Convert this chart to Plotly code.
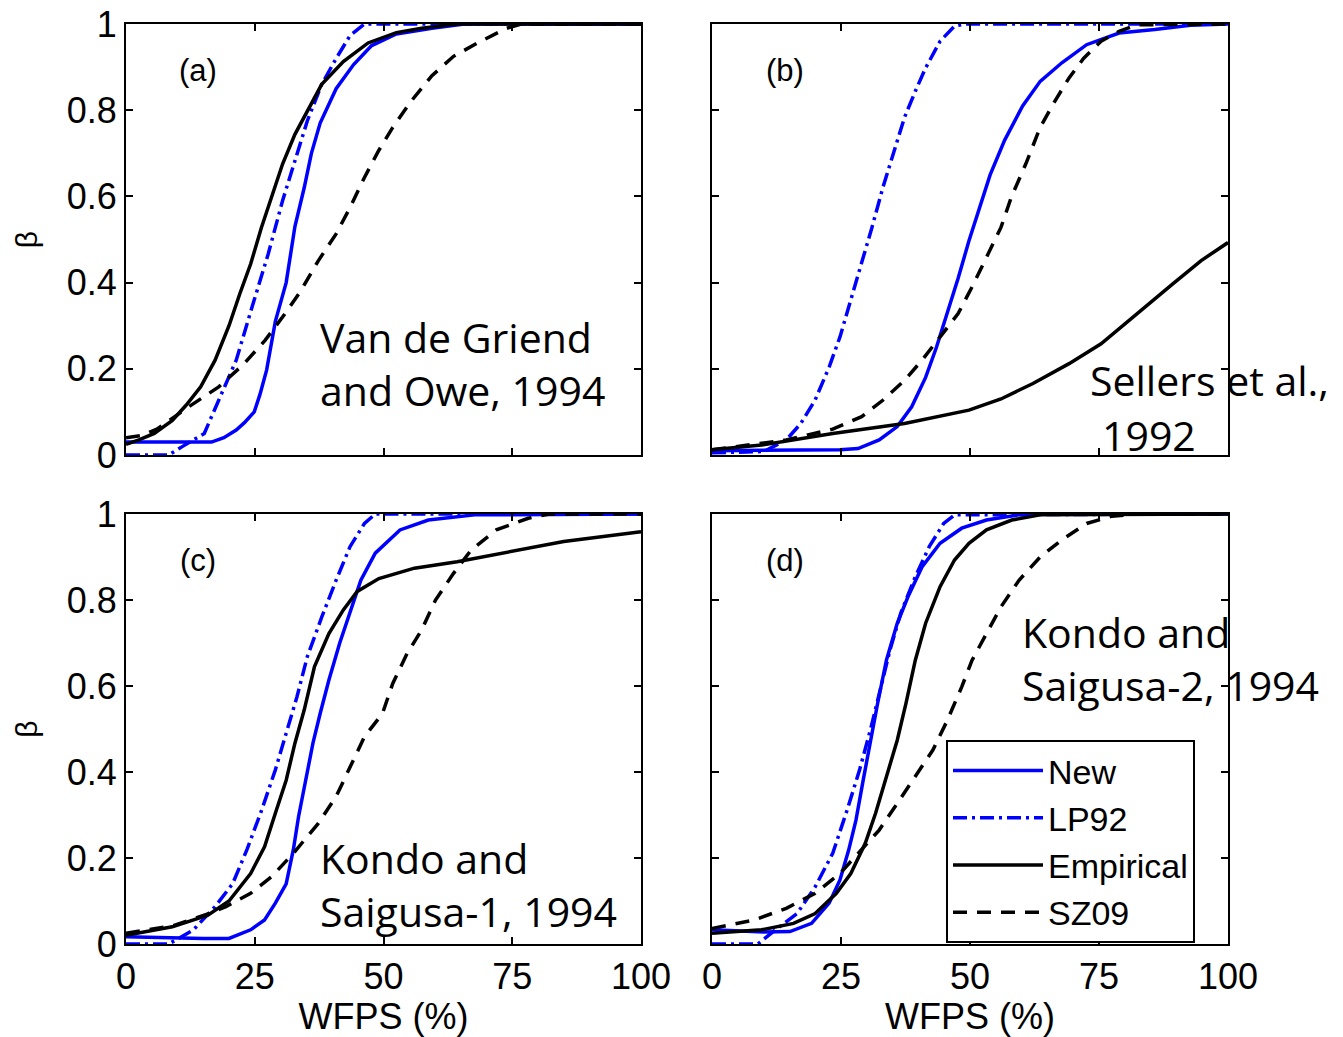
import plotly.graph_objects as go

# ---------------- data ----------------
x_ticks = [0, 25, 50, 75, 100]
x_tick_labels = ["0", "25", "50", "75", "100"]
y_ticks = [0, 0.2, 0.4, 0.6, 0.8, 1]
y_tick_labels = ["0", "0.2", "0.4", "0.6", "0.8", "1"]
series_names = ["New", "LP92", "Empirical", "SZ09"]
panel_letters = ["(a)", "(b)", "(c)", "(d)"]

# panel (a)
a_new_x = [0, 5, 10, 16.6, 19, 21.4, 23, 24.9, 26, 27.3, 29, 31.1, 32.8, 34.6, 36, 37.7, 40.8, 44.2, 47.7, 52.5, 59.4, 65.7, 100]
a_new_y = [0.03, 0.03, 0.028, 0.03, 0.04, 0.058, 0.075, 0.10, 0.14, 0.197, 0.31, 0.40, 0.53, 0.62, 0.70, 0.77, 0.85, 0.906, 0.95, 0.977, 0.99, 1.0, 1.0]
a_lp_x = [0, 8.3, 11, 15.2, 18, 21.4, 24.9, 27.6, 30.4, 32.8, 35.2, 38, 40.8, 43.5, 46.3, 100]
a_lp_y = [0, 0, 0.02, 0.05, 0.127, 0.22, 0.36, 0.466, 0.59, 0.68, 0.775, 0.86, 0.92, 0.973, 1.0, 1.0]
a_emp_x = [0, 2.5, 5.5, 9, 11.7, 14.5, 17.3, 20, 22.1, 24.2, 26.3, 28.3, 30.4, 32.8, 35.2, 38, 42.2, 47, 52.5, 57.4, 64.3, 100]
a_emp_y = [0.025, 0.035, 0.05, 0.08, 0.116, 0.158, 0.22, 0.30, 0.374, 0.443, 0.528, 0.598, 0.675, 0.744, 0.798, 0.86, 0.913, 0.956, 0.98, 0.99, 1.0, 1.0]
a_sz_x = [0, 3, 6, 11.7, 18, 22.8, 27, 30.4, 33.9, 37.3, 40.8, 43.5, 46.3, 49, 51.8, 55.3, 59.4, 63.6, 68.4, 73.9, 76.7, 100]
a_sz_y = [0.04, 0.045, 0.06, 0.108, 0.158, 0.21, 0.266, 0.32, 0.38, 0.45, 0.513, 0.574, 0.644, 0.705, 0.76, 0.82, 0.88, 0.925, 0.957, 0.99, 1.0, 1.0]

# panel (b)
b_new_x = [0, 24.8, 28.3, 32.4, 35.9, 38.7, 41.4, 43.5, 45.6, 47.7, 49.8, 51.8, 53.9, 56.7, 60.2, 63.6, 67.8, 72.6, 78.9, 85.8, 92.7, 100]
b_new_y = [0.01, 0.012, 0.015, 0.035, 0.066, 0.112, 0.18, 0.25, 0.33, 0.41, 0.497, 0.574, 0.65, 0.73, 0.81, 0.867, 0.91, 0.952, 0.979, 0.987, 0.997, 1.0]
b_lp_x = [0, 10, 14.4, 17.2, 19.96, 22.7, 24.8, 26.9, 29, 31, 33.1, 35.2, 37.3, 39.4, 41.4, 44.2, 47, 49, 100]
b_lp_y = [0.005, 0.008, 0.035, 0.073, 0.127, 0.204, 0.274, 0.358, 0.443, 0.528, 0.62, 0.705, 0.783, 0.844, 0.898, 0.96, 0.995, 1.0, 1.0]
b_emp_x = [0, 9.6, 23.4, 37.3, 49.8, 56, 62.2, 69.2, 75.4, 82.3, 89.3, 94.8, 100]
b_emp_y = [0.012, 0.023, 0.05, 0.073, 0.104, 0.13, 0.166, 0.212, 0.258, 0.328, 0.397, 0.451, 0.493]
b_sz_x = [0, 14.4, 23.4, 29, 33.1, 37.3, 40.7, 44.2, 47.7, 50.4, 53.2, 56, 58, 60.8, 63.6, 66.4, 69.2, 72, 75.4, 78.9, 82.3, 100]
b_sz_y = [0.012, 0.035, 0.06, 0.089, 0.127, 0.173, 0.22, 0.274, 0.328, 0.39, 0.46, 0.528, 0.598, 0.675, 0.76, 0.82, 0.875, 0.92, 0.96, 0.983, 0.998, 1.0]

# panel (c)
c_new_x = [0, 5, 10, 15, 20, 24.2, 26.9, 29, 31.1, 32.5, 33.5, 34.9, 36.3, 37.7, 39.4, 41.5, 43.5, 45.6, 48.4, 53.2, 58.7, 67.7, 100]
c_new_y = [0.017, 0.015, 0.013, 0.013, 0.013, 0.033, 0.056, 0.095, 0.14, 0.22, 0.296, 0.38, 0.467, 0.536, 0.614, 0.70, 0.77, 0.846, 0.909, 0.963, 0.986, 0.998, 1.0]
c_lp_x = [0, 8.3, 13.1, 17.3, 20.7, 23.5, 26.3, 29, 31.1, 33.2, 35.2, 38, 40.8, 43.5, 46.3, 48.4, 100]
c_lp_y = [0, 0, 0.033, 0.087, 0.14, 0.22, 0.31, 0.405, 0.49, 0.575, 0.668, 0.76, 0.846, 0.924, 0.978, 1.0, 1.0]
c_emp_x = [0, 9, 15.9, 20, 24.2, 26.9, 29, 31.1, 32.8, 34.6, 36.6, 39.4, 42.2, 44.9, 49.1, 56, 64.3, 74.6, 85, 100]
c_emp_y = [0.02, 0.04, 0.067, 0.10, 0.164, 0.226, 0.304, 0.381, 0.467, 0.544, 0.645, 0.722, 0.777, 0.82, 0.85, 0.874, 0.889, 0.912, 0.936, 0.959]
c_sz_x = [0, 9, 15.9, 19.4, 24.2, 28.3, 32.5, 37.3, 40.8, 43.5, 46.3, 49.8, 51.8, 54.6, 57.4, 60.1, 63.6, 67, 71.9, 78.1, 82.2, 100]
c_sz_y = [0.025, 0.042, 0.07, 0.087, 0.118, 0.157, 0.211, 0.28, 0.343, 0.412, 0.482, 0.536, 0.606, 0.676, 0.73, 0.80, 0.862, 0.916, 0.963, 0.99, 1.0, 1.0]

# panel (d)
d_new_x = [0, 5, 10, 15.1, 19.3, 22.7, 24.8, 26.5, 27.9, 29.3, 30.7, 32.1, 33.8, 35.9, 38, 40.7, 44.2, 48.4, 53.2, 59.5, 65, 100]
d_new_y = [0.033, 0.03, 0.028, 0.029, 0.048, 0.095, 0.149, 0.219, 0.288, 0.381, 0.474, 0.56, 0.66, 0.746, 0.808, 0.877, 0.932, 0.967, 0.986, 0.998, 1.0, 1.0]
d_lp_x = [0, 8.9, 12.3, 16.5, 20, 23.4, 26.2, 28.6, 30.7, 32.4, 34.5, 36.6, 39.4, 42.1, 44.9, 47, 100]
d_lp_y = [0, 0, 0.033, 0.071, 0.133, 0.211, 0.312, 0.405, 0.498, 0.583, 0.684, 0.77, 0.854, 0.924, 0.978, 0.998, 1.0]
d_emp_x = [0, 9.6, 15.8, 20, 24.1, 26.9, 29.7, 31.7, 33.8, 35.9, 37.6, 39.4, 41.4, 44.2, 47, 49.8, 53.2, 58.1, 63.6, 100]
d_emp_y = [0.025, 0.033, 0.048, 0.071, 0.118, 0.164, 0.234, 0.304, 0.389, 0.474, 0.56, 0.66, 0.746, 0.831, 0.893, 0.932, 0.963, 0.986, 0.998, 1.0]
d_sz_x = [0, 8.2, 14.4, 20, 24.8, 28.3, 32.4, 35.9, 39.4, 42.8, 45.6, 48.4, 50.4, 53.2, 56, 59.5, 63.6, 67.8, 72.6, 77.5, 82.3, 100]
d_sz_y = [0.036, 0.056, 0.083, 0.118, 0.164, 0.211, 0.265, 0.327, 0.389, 0.451, 0.52, 0.598, 0.66, 0.722, 0.784, 0.846, 0.90, 0.94, 0.978, 0.995, 1.0, 1.0]

panels = [
    [(a_new_x, a_new_y), (a_lp_x, a_lp_y), (a_emp_x, a_emp_y), (a_sz_x, a_sz_y)],
    [(b_new_x, b_new_y), (b_lp_x, b_lp_y), (b_emp_x, b_emp_y), (b_sz_x, b_sz_y)],
    [(c_new_x, c_new_y), (c_lp_x, c_lp_y), (c_emp_x, c_emp_y), (c_sz_x, c_sz_y)],
    [(d_new_x, d_new_y), (d_lp_x, d_lp_y), (d_emp_x, d_emp_y), (d_sz_x, d_sz_y)],
]

# ---------------- styling ----------------
# the page body has an 8px default margin, so the figure is drawn 8px in
OFF = 8
W, H = 1343 - OFF, 1037 - OFF
BLUE = "#0000ff"
styles = [
    dict(color=BLUE, width=3.5, dash="solid"),
    dict(color=BLUE, width=3.5, dash="14px,5px,3px,5px"),
    dict(color="black", width=3.5, dash="solid"),
    dict(color="black", width=3.5, dash="14px,10px"),
]
ARIAL = "Liberation Sans, Arial, sans-serif"
TICK_FONT = dict(family=ARIAL, size=36, color="black")
NOTE_FONT = dict(family="Open Sans, Noto Sans, sans-serif", size=41, color="black")

def px_x(p):
    return (p - OFF) / W

def px_y(p):
    return 1 - (p - OFF) / H

x_domains = [[px_x(126), px_x(641)], [px_x(712), px_x(1228)]]
y_domains = [[px_y(455), px_y(24)], [px_y(944), px_y(514)]]

fig = go.Figure()
for i, data in enumerate(panels):
    xa = "x" if i == 0 else f"x{i+1}"
    ya = "y" if i == 0 else f"y{i+1}"
    for j, (xs, ys) in enumerate(data):
        fig.add_trace(go.Scatter(
            x=xs, y=ys, mode="lines", name=series_names[j],
            line=styles[j], xaxis=xa, yaxis=ya,
            showlegend=(i == 3), legendrank=j + 1,
        ))

layout = dict(
    width=W, height=H, margin=dict(l=0, r=0, t=0, b=0, autoexpand=False),
    paper_bgcolor="white", plot_bgcolor="white",
    showlegend=True,
    legend=dict(
        x=px_x(946), y=px_y(740), xanchor="left", yanchor="top",
        bgcolor="white", bordercolor="black", borderwidth=2,
        font=dict(family=ARIAL, size=34, color="black"),
        traceorder="normal", tracegroupgap=0, itemwidth=90,
        entrywidth=264, entrywidthmode="pixels",
    ),
)
for i in range(4):
    row, col = divmod(i, 2)
    xkey = "xaxis" if i == 0 else f"xaxis{i+1}"
    ykey = "yaxis" if i == 0 else f"yaxis{i+1}"
    ya_id = "y" if i == 0 else f"y{i+1}"
    xa_id = "x" if i == 0 else f"x{i+1}"
    layout[xkey] = dict(
        domain=x_domains[col], anchor=ya_id, range=[0, 100], automargin=False,
        tickvals=x_ticks, ticktext=x_tick_labels, showticklabels=(row == 1),
        ticks="inside", ticklen=7, tickwidth=1.5, tickcolor="black",
        showline=True, linecolor="black", linewidth=2, mirror="ticks",
        showgrid=False, zeroline=False, tickfont=TICK_FONT, ticklabeloverflow="allow",
        title=dict(text="WFPS (%)" if row == 1 else "", font=dict(family=ARIAL, size=36, color="black"), standoff=0),
        fixedrange=True,
    )
    layout[ykey] = dict(
        domain=y_domains[row], anchor=xa_id, range=[0, 1], automargin=False,
        tickvals=y_ticks, ticktext=y_tick_labels, showticklabels=(col == 0),
        ticks="inside", ticklen=7, tickwidth=1.5, tickcolor="black",
        showline=True, linecolor="black", linewidth=2, mirror="ticks",
        showgrid=False, zeroline=False, tickfont=TICK_FONT, ticklabeloverflow="allow",
        title=dict(text="β" if col == 0 else "", font=dict(family=ARIAL, size=30, color="black"), standoff=20),
        fixedrange=True,
    )
fig.update_layout(**layout)

# panel letters
letter_pos = [(198, 70), (785, 70), (198, 560), (785, 560)]
for txt, (lx, ly) in zip(panel_letters, letter_pos):
    fig.add_annotation(text=txt, x=px_x(lx), y=px_y(ly), xref="paper", yref="paper",
                       xanchor="center", yanchor="middle", showarrow=False,
                       font=dict(family=ARIAL, size=31, color="black"))

# site labels
notes = [
    ("Van de Griend<br>and Owe, 1994", 318, 363),
    ("Sellers et al.,", 1088, 380),
    ("1992", 1100, 435),
    ("Kondo and<br>Saigusa-1, 1994", 318, 884),
    ("Kondo and<br>Saigusa-2, 1994", 1020, 658),
]
for txt, nx, ny in notes:
    fig.add_annotation(text=txt, x=px_x(nx), y=px_y(ny), xref="paper", yref="paper",
                       xanchor="left", yanchor="middle", align="left", showarrow=False,
                       font=NOTE_FONT)

fig.write_html("out.html")
